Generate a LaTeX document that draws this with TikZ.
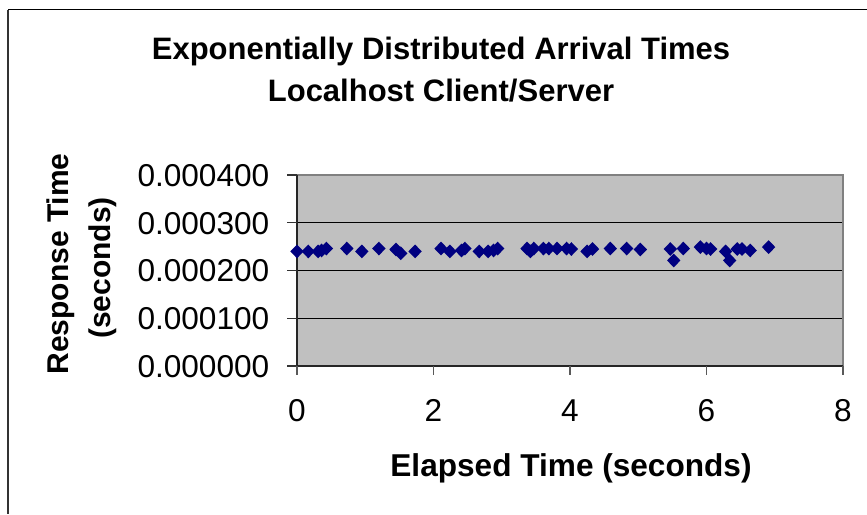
\documentclass[tikz,border=0pt]{standalone}
\usepackage{fontspec}
\setmainfont{Liberation Sans}
\begin{document}
\begin{tikzpicture}[x=1pt,y=-1pt,
  lbl/.style={inner sep=0pt,font=\fontsize{31.6}{37}\selectfont},
  boldlbl/.style={inner sep=0pt,font=\fontsize{31}{37}\selectfont\bfseries},
  xtitlelbl/.style={inner sep=0pt,font=\fontsize{31.6}{37}\selectfont\bfseries},
  axlbl/.style={inner sep=0pt,font=\fontsize{30}{36}\selectfont\bfseries},
  gridline/.style={line width=1pt,black},
  axisline/.style={line width=1.6pt,black!85},
  frameline/.style={line width=1.8pt,gray},
  tickmark/.style={line width=1.2pt,black!80},
  datamark/.style={fill=blue!50!black!100,draw=none}]
\useasboundingbox (0,0) rectangle (867,514);
\fill[white] (0,0) rectangle (867,514);
% outer chart frame
\draw[line width=1pt,black] (8,9.5) -- (867,9.5);
\draw[line width=2pt,black!80] (8,9.5) -- (8,514);
% plot area
\coordinate (pa) at (297,175);
\coordinate (pb) at (843,366);
\fill[fill={rgb,255:red,192;green,192;blue,192}] (pa) rectangle (pb);
\foreach \g in {222.75,270.5,318.25}
  \draw[gridline] (297,\g) -- (843,\g);
\draw[frameline] (297,175) -- (843,175) -- (843,366);
\draw[axisline] (297,175) -- (297,366) -- (843,366);
% y ticks and labels
\foreach \v/\s in {0/0.000000,1/0.000100,2/0.000200,3/0.000300,4/0.000400}{
  \draw[tickmark] (287,{366-47.75*\v}) -- (297,{366-47.75*\v});
  \node[lbl,anchor=base east] (ylab\v) at (269.5,{366-47.75*\v+11.4}) {\s};
}
% x ticks and labels
\foreach \t in {0,2,4,6,8}{
  \draw[tickmark,gray!70!black] ({297+68.25*\t},366) -- ({297+68.25*\t},375);
  \node[lbl,anchor=base] (xlab\t) at ({297+68.25*\t},421.7) {\t};
}
% data points
\foreach \t/\v in {0/2.40,0.165/2.40,0.31/2.40,0.36/2.42,0.43/2.46,
  0.73/2.46,0.95/2.40,1.20/2.46,1.45/2.44,1.52/2.36,1.73/2.40,
  2.11/2.46,2.24/2.40,2.41/2.42,2.46/2.46,2.67/2.40,2.80/2.40,2.88/2.42,2.94/2.46,
  3.37/2.46,3.42/2.40,3.47/2.46,3.61/2.46,3.69/2.46,3.81/2.46,3.95/2.46,4.02/2.45,
  4.25/2.40,4.33/2.45,4.59/2.46,4.83/2.46,5.03/2.44,
  5.47/2.45,5.52/2.21,5.66/2.46,5.91/2.49,6.00/2.46,6.06/2.45,
  6.28/2.40,6.34/2.21,6.45/2.45,6.52/2.45,6.64/2.42,6.91/2.49}{
  \fill[datamark] ({297+68.25*\t},{366-47.75*\v}) +(0,-6.9) -- +(6.7,0) -- +(0,6.9) -- +(-6.7,0) -- cycle;
}
% titles
\node[boldlbl,anchor=base] (title1) at (441,59.3) {Exponentially Distributed Arrival Times};
\node[boldlbl,anchor=base] (title2) at (441,101) {Localhost Client/Server};
\node[xtitlelbl,anchor=base] (xtitle) at (571,476.7) {Elapsed Time (seconds)};
\node[axlbl,anchor=base,rotate=90] (ytitle1) at (68.3,264) {Response Time};
\node[axlbl,anchor=base,rotate=90] (ytitle2) at (110,268) {(seconds)};
\end{tikzpicture}
\end{document}
